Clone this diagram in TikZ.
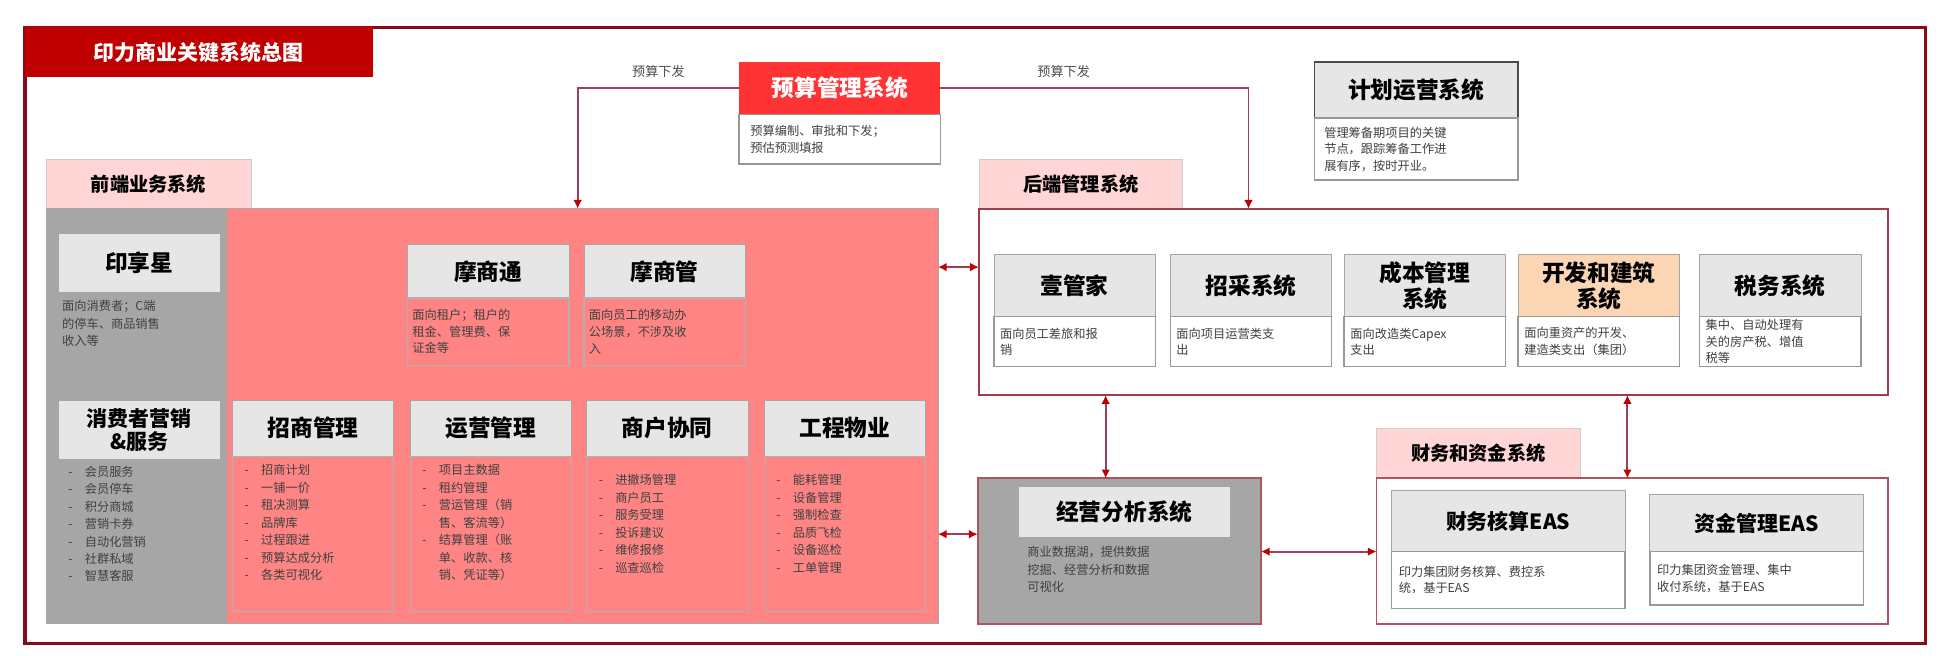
\documentclass[tikz,border=0pt]{standalone}
\usepackage{fontspec}
\setmainfont{Noto Sans CJK SC}
\usetikzlibrary{arrows.meta}

\definecolor{darkred}{HTML}{8B0A1A}
\definecolor{titlered}{HTML}{C00000}
\definecolor{budgetred}{HTML}{FF3333}
\definecolor{frontpink}{HTML}{FF8585}
\definecolor{tabpink}{HTML}{FFD5D5}
\definecolor{midgray}{HTML}{A6A6A6}
\definecolor{lightgray}{HTML}{E6E6E6}
\definecolor{buildorange}{HTML}{FCD5B4}
\definecolor{linkred}{HTML}{A04058}

% box from (x1,y1) to (x2,y2) in picture pixels
\newcommand\rbox[7]{%
  \pgfmathsetmacro\rw{(#5-#3)*0.025}%
  \pgfmathsetmacro\rh{(#6-#4)*0.025}%
  \node[#2,minimum width=\rw cm,minimum height=\rh cm,anchor=north west] (#1) at (#3,#4) {#7};}

\tikzset{
  base/.style={inner sep=0pt,outer sep=0pt},
  head/.style={base,fill=lightgray,draw=gray!70,font=\fontsize{13}{15}\selectfont\bfseries,align=center},
  desc/.style={base,fill=white,draw=gray!80,line width=0.8pt,font=\fontsize{7}{9.5}\selectfont,align=left,text=black!75},
  pinkdesc/.style={desc,fill=frontpink},
  tab/.style={base,fill=tabpink,draw=gray!40,font=\fontsize{11}{13}\selectfont\bfseries},
  items/.style={base,anchor=north west,font=\fontsize{7}{10}\selectfont,align=left,text=black!75},
  link/.style={linkred,line width=1.2pt,{Latex[length=5pt,width=5pt,color=titlered]}-{Latex[length=5pt,width=5pt,color=titlered]}},
  down/.style={linkred,line width=1pt,-{Latex[length=5pt,width=5pt,color=titlered]}},
  lbl/.style={font=\fontsize{7.5}{9}\selectfont,text=black!70}
}

\begin{document}
\begin{tikzpicture}[x=0.025cm,y=-0.025cm]
\useasboundingbox (0,0) rectangle (1560,528);
% outer frame and title
\draw[darkred,line width=2pt] (20,22) rectangle (1550,518);
\rbox{title}{base,fill=titlered,text=white,font=\fontsize{12}{14}\selectfont\bfseries}{20}{22}{300}{62}{印力商业关键系统总图}

% budget system
\rbox{budget}{base,fill=budgetred,text=white,font=\fontsize{13}{15}\selectfont\bfseries}{595}{50}{757}{92}{预算管理系统}
\rbox{budgetdesc}{desc,text width=3.6cm}{595}{92}{757}{132}{预算编制、审批和下发；\\预估预测填报}

% plan system
\rbox{plan}{head,draw=black!70,line width=1pt}{1058}{50}{1222}{95}{计划运营系统}
\rbox{plandesc}{desc,text width=3.7cm}{1058}{95}{1222}{145}{管理筹备期项目的关键\\节点，跟踪筹备工作进\\展有序，按时开业。}

% front end
\rbox{fronttab}{tab}{37}{128}{202}{168}{前端业务系统}
\rbox{front}{base,fill=frontpink,draw=gray!70}{37}{168}{755}{502}{}
\rbox{frontleft}{base,fill=midgray}{37}{168}{183}{502}{}
\rbox{yxx}{head}{47}{188}{177}{235}{印享星}
\node[items] (yxxdesc) at (50,242) {面向消费者；C端\\的停车、商品销售\\收入等};
\rbox{consumer}{head,font=\fontsize{12}{13}\selectfont\bfseries}{47}{322}{177}{370}{消费者营销\\\&服务}
\node[items] (consumerlist) at (55,375) {-\quad 会员服务\\-\quad 会员停车\\-\quad 积分商城\\-\quad 营销卡券\\-\quad 自动化营销\\-\quad 社群私域\\-\quad 智慧客服};

\rbox{mst}{head}{328}{197}{458}{240}{摩商通}
\rbox{mstdesc}{pinkdesc,draw=gray!60,text width=3.05cm}{328}{240}{458}{294}{面向租户；租户的\\租金、管理费、保\\证金等}
\rbox{msg}{head}{470}{197}{600}{240}{摩商管}
\rbox{msgdesc}{pinkdesc,draw=gray!60,text width=3.05cm}{470}{240}{600}{294}{面向员工的移动办\\公场景，不涉及收\\入}

\foreach \nm/\xa/\txt in {zs/187/招商管理,yy/330/运营管理,sh/472/商户协同,gc/615/工程物业}{
  \rbox{\nm}{head}{\xa}{322}{\xa+130}{367}{\txt}
  \rbox{\nm list}{base,draw=gray!60}{\xa}{367}{\xa+130}{492}{}
}
\node[items] (zsitems) at (197,374) {-\quad 招商计划\\-\quad 一铺一价\\-\quad 租决测算\\-\quad 品牌库\\-\quad 过程跟进\\-\quad 预算达成分析\\-\quad 各类可视化};
\node[items] (yyitems) at (340,374) {-\quad 项目主数据\\-\quad 租约管理\\-\quad 营运管理（销\\\phantom{-}\quad 售、客流等）\\-\quad 结算管理（账\\\phantom{-}\quad 单、收款、核\\\phantom{-}\quad 销、凭证等）};
\node[items] (shitems) at (482,382) {-\quad 进撤场管理\\-\quad 商户员工\\-\quad 服务受理\\-\quad 投诉建议\\-\quad 维修报修\\-\quad 巡查巡检};
\node[items] (gcitems) at (625,382) {-\quad 能耗管理\\-\quad 设备管理\\-\quad 强制检查\\-\quad 品质飞检\\-\quad 设备巡检\\-\quad 工单管理};

% back end
\rbox{backtab}{tab}{788}{128}{952}{168}{后端管理系统}
\rbox{back}{base,fill=white,draw=darkred!80,line width=1pt}{788}{168}{1520}{318}{}
\foreach \nm/\xa/\txt/\dsc/\fl in {
  ygj/800/壹管家/{面向员工差旅和报\\销}/lightgray,
  zc/942/招采系统/{面向项目运营类支\\出}/lightgray,
  cb/1082/成本管理\\系统/{面向改造类Capex\\支出}/lightgray,
  kf/1222/开发和建筑\\系统/{面向重资产的开发、\\建造类支出（集团）}/buildorange,
  sw/1368/税务系统/{集中、自动处理有\\关的房产税、增值\\税等}/lightgray}{
  \rbox{\nm}{head,fill=\fl}{\xa}{205}{\xa+130}{255}{\txt}
  \rbox{\nm desc}{desc,text width=3.0cm}{\xa}{255}{\xa+130}{295}{\dsc}
}

% analysis
\rbox{analysis}{base,fill=midgray,draw=darkred!70,line width=1pt}{787}{385}{1015}{502}{}
\rbox{anahead}{head,draw=none}{820}{392}{990}{432}{经营分析系统}
\node[items] (anadesc) at (827,440) {商业数据湖，提供数据\\挖掘、经营分析和数据\\可视化};

% finance
\rbox{fintab}{tab}{1108}{345}{1272}{385}{财务和资金系统}
\rbox{fin}{base,fill=white,draw=darkred!70,line width=1pt}{1108}{385}{1520}{502}{}
\rbox{eas}{head,font=\fontsize{12}{14}\selectfont\bfseries}{1120}{395}{1308}{444}{财务核算EAS}
\rbox{easdesc}{desc,text width=4.4cm}{1120}{444}{1308}{490}{印力集团财务核算、费控系\\统，基于EAS}
\rbox{fund}{head,font=\fontsize{12}{14}\selectfont\bfseries}{1328}{398}{1500}{444}{资金管理EAS}
\rbox{funddesc}{desc,text width=4.0cm}{1328}{444}{1500}{487}{印力集团资金管理、集中\\收付系统，基于EAS}

% connectors
\coordinate (fronttop) at (465,168);
\coordinate (backtop) at (1005,168);
\draw[down] (budget.west) -| node[lbl,pos=0.25,above=2pt] {预算下发} (fronttop);
\draw[down] (budget.east) -| node[lbl,pos=0.2,above=2pt] {预算下发} (backtop);
\draw[link] (front.east |- 0,215) -- (back.west |- 0,215);
\draw[link] (front.east |- 0,430) -- (analysis.west |- 0,430);
\draw[link] (back.south -| 890,0) -- (analysis.north -| 890,0);
\draw[link] (back.south -| 1310,0) -- (fin.north -| 1310,0);
\draw[link] (analysis.east |- 0,444) -- (fin.west |- 0,444);
\end{tikzpicture}
\end{document}
